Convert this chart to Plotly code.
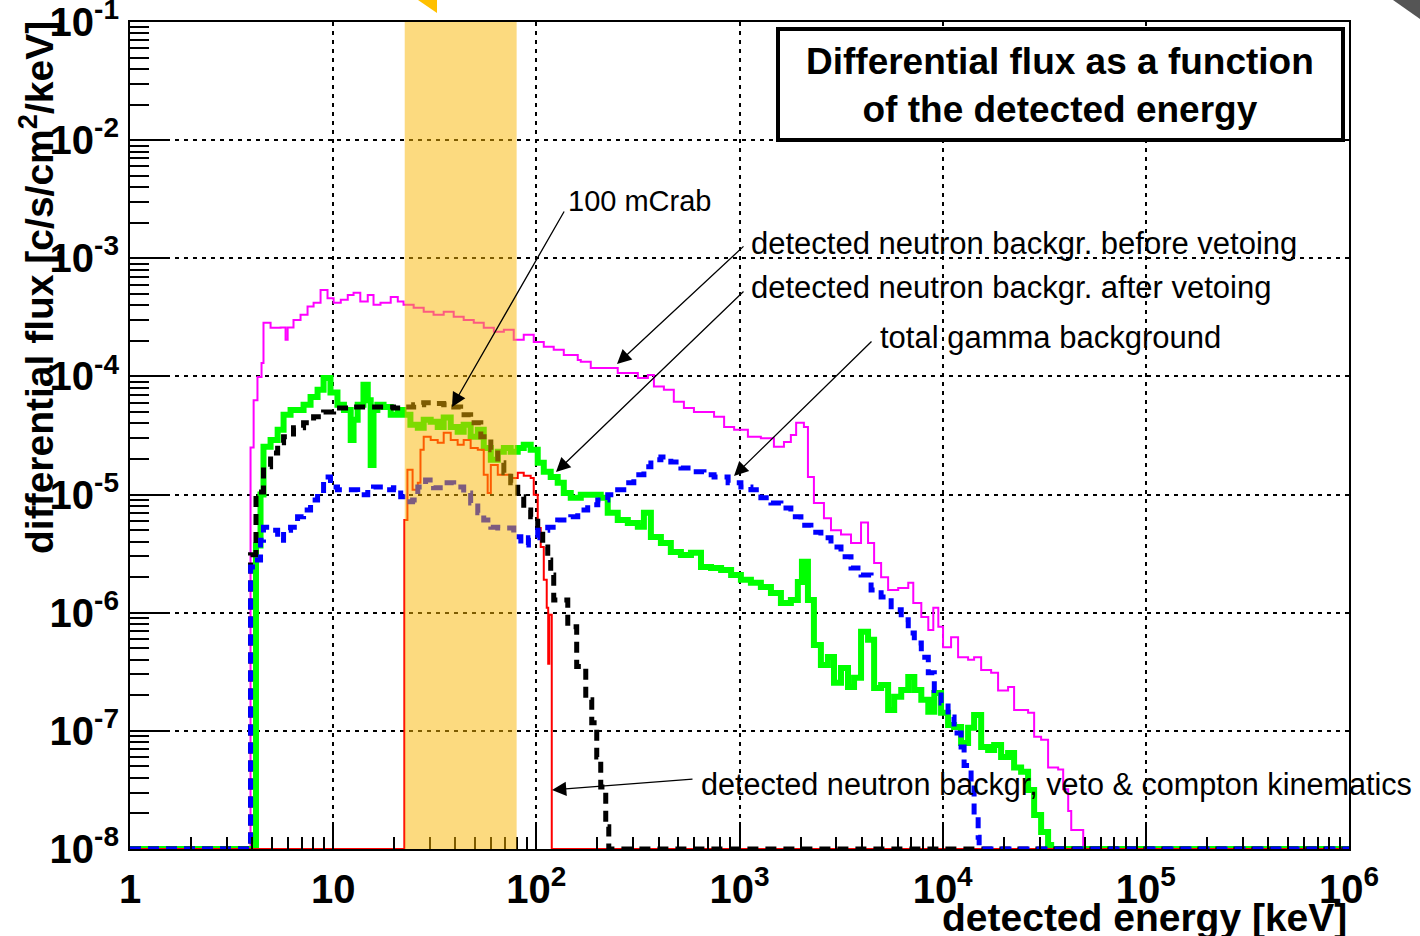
import plotly.graph_objects as go

# ---------------------------------------------------------------------------
# Histogram contents: left bin edge [keV] and differential flux [c/s/cm^2/keV].
# Empty bins sit at the bottom of the plotted range (1e-8).
# ---------------------------------------------------------------------------
FLOOR = 1e-8

# detected neutron background before vetoing
before_veto_E = [1, 3.92, 4.06, 4.24, 4.44, 4.54, 4.92, 5.51, 5.83, 5.97, 6.38, 6.91,
                 7.48, 8.01, 8.67, 9.38, 10.05, 10.9, 11.8, 12.6, 13.6, 14.8, 15.8,
                 17.1, 19.2, 20.8, 22.2, 24.9, 27.9, 31.2, 35.0, 39.2, 43.9, 49.2,
                 55.1, 61.8, 69.2, 77.4, 86.7, 97.1, 108.8, 121.8, 136.5, 159.9,
                 165.5, 185.3, 251.6, 315.9, 354.1, 379.1, 424.5, 475.0, 532.6,
                 596.7, 749.5, 839.9, 940.9, 1100, 1274, 1477, 1655, 1790, 1900,
                 2075, 2172, 2324, 2604, 2820, 3159, 3539, 3965, 4292, 4598, 4978,
                 5389, 6041, 6771, 7167, 7850, 8496, 8994, 9518, 10045, 11000,
                 11910, 13340, 14280, 15470, 17320, 18740, 20990, 22470, 26330,
                 28200, 30520, 33030, 37020, 39190, 41480, 42940, 49180, 1e6]
before_veto_F = [FLOOR, 2.5e-5, 6.3e-5, 9.9e-5, 1.3e-4, 2.84e-4, 2.58e-4, 2.6e-4, 2.04e-4,
                 2.6e-4, 3.0e-4, 3.33e-4, 3.9e-4, 4.2e-4, 5.4e-4, 4.6e-4, 4.2e-4,
                 4.46e-4, 4.9e-4, 5.1e-4, 4.3e-4, 4.9e-4, 4.04e-4, 4.2e-4, 4.7e-4,
                 4.3e-4, 4.04e-4, 3.81e-4, 3.52e-4, 3.33e-4, 3.52e-4, 3.2e-4, 3.01e-4,
                 2.84e-4, 2.58e-4, 2.39e-4, 2.48e-4, 2.04e-4, 2.25e-4, 1.96e-4,
                 1.78e-4, 1.68e-4, 1.52e-4, 1.38e-4, 1.33e-4, 1.18e-4, 1.07e-4,
                 9.7e-5, 1.03e-4, 8.2e-5, 7.7e-5, 6.1e-5, 5.4e-5, 5.0e-5, 4.55e-5,
                 3.74e-5, 3.53e-5, 3.08e-5, 3.0e-5, 2.54e-5, 2.79e-5, 3.2e-5, 4.05e-5,
                 3.74e-5, 1.41e-5, 8.5e-6, 6.3e-6, 5.0e-6, 4.6e-6, 3.9e-6, 5.8e-6,
                 3.9e-6, 2.64e-6, 2.0e-6, 1.56e-6, 1.62e-6, 1.79e-6, 1.21e-6, 9.2e-7,
                 7.15e-7, 1.1e-6, 7.6e-7, 5.1e-7, 6.2e-7, 4.2e-7, 4.0e-7, 4.2e-7,
                 3.28e-7, 3.1e-7, 2.2e-7, 2.35e-7, 1.5e-7, 1.42e-7, 8.9e-8, 8.4e-8,
                 4.9e-8, 4.7e-8, 3.2e-8, 2.1e-8, 1.45e-8, FLOOR, FLOOR]

# detected neutron background after vetoing
after_veto_E = [1, 4.17, 4.39, 4.54, 4.92, 5.33, 5.70, 6.17, 7.15, 7.74, 8.38, 8.97,
                9.70, 10.5, 11.3, 12.2, 12.6, 13.2, 14.1, 14.8, 15.3, 15.8, 16.5,
                17.7, 19.2, 20.8, 22.2, 24.0, 26.1, 27.9, 30.2, 32.7, 35.0, 37.9,
                41.0, 43.9, 47.5, 51.5, 55.1, 59.7, 64.6, 69.2, 74.8, 81.0, 86.7,
                93.8, 101.6, 108.8, 117.7, 127.4, 136.5, 147.7, 165.5, 207.5, 224.6,
                251.6, 282.0, 315.9, 338.4, 366.3, 410.3, 459.2, 514.8, 576.8,
                646.3, 724.4, 811.8, 909.4, 1016, 1138, 1274, 1428, 1599, 1790,
                1937, 2029, 2172, 2324, 2516, 2724, 2918, 3159, 3420, 3663, 3965,
                4292, 4598, 4978, 5389, 5773, 6252, 6771, 7252, 7850, 8496, 9096,
                9820, 10630, 11380, 12320, 13340, 14280, 15470, 16740, 17920,
                19390, 20990, 22470, 24330, 26330, 28200, 30520, 33030, 34200, 1e6]
after_veto_F = [FLOOR, 3.7e-6, 1.0e-5, 2.54e-5, 2.9e-5, 3.53e-5, 4.73e-5, 5.2e-5, 5.75e-5,
                6.7e-5, 7.7e-5, 9.7e-5, 7.3e-5, 5.75e-5, 5.2e-5, 2.9e-5, 4.3e-5,
                5.75e-5, 8.5e-5, 6.3e-5, 1.78e-5, 5.2e-5, 5.75e-5, 5.5e-5, 4.73e-5,
                5.2e-5, 4.73e-5, 3.9e-5, 3.67e-5, 4.3e-5, 4.13e-5, 3.74e-5, 4.5e-5,
                3.74e-5, 3.4e-5, 3.9e-5, 3.08e-5, 3.53e-5, 2.48e-5, 1.97e-5, 2.3e-5,
                2.48e-5, 2.3e-5, 2.48e-5, 2.64e-5, 2.39e-5, 1.86e-5, 1.56e-5,
                1.41e-5, 1.26e-5, 1.03e-5, 9.4e-6, 9.95e-6, 9.4e-6, 7.0e-6, 6.1e-6,
                5.76e-6, 5.33e-6, 7.0e-6, 4.38e-6, 3.9e-6, 3.27e-6, 3.08e-6,
                3.21e-6, 2.44e-6, 2.39e-6, 2.3e-6, 2.09e-6, 1.9e-6, 1.79e-6,
                1.65e-6, 1.47e-6, 1.21e-6, 1.28e-6, 1.82e-6, 2.7e-6, 1.28e-6,
                5.34e-7, 3.61e-7, 4.22e-7, 2.55e-7, 3.41e-7, 2.35e-7, 2.81e-7,
                6.9e-7, 5.9e-7, 2.31e-7, 2.45e-7, 1.5e-7, 1.94e-7, 2.22e-7, 2.86e-7,
                2.22e-7, 1.83e-7, 1.45e-7, 2.09e-7, 1.42e-7, 1.12e-7, 1.08e-7,
                7.9e-8, 1.06e-7, 1.36e-7, 7.3e-8, 6.9e-8, 7.6e-8, 6.0e-8, 6.5e-8,
                4.9e-8, 4.5e-8, 3.16e-8, 1.94e-8, 1.39e-8, 1.08e-8, FLOOR, FLOOR]

# total gamma background
gamma_E = [1, 3.92, 4.24, 4.39, 4.54, 4.92, 5.33, 5.70, 6.17, 6.68, 7.15, 7.74, 8.38,
           8.97, 9.70, 10.5, 13.2, 14.8, 15.8, 17.7, 19.8, 21.5, 23.2, 24.6, 26.1,
           28.5, 31.2, 35.0, 39.2, 43.9, 47.5, 51.5, 55.1, 59.7, 64.6, 77.4, 83.9,
           91.4, 101.6, 113.8, 127.4, 147.7, 159.9, 179.0, 200.6, 224.6, 240.3,
           269.4, 301.9, 338.4, 366.3, 410.3, 459.2, 514.8, 576.8, 668.7, 749.5,
           878.9, 1016, 1138, 1274, 1428, 1599, 1790, 2006, 2247, 2516, 2820,
           3159, 3539, 3965, 4443, 4978, 5578, 6252, 6771, 7252, 7850, 8496,
           9096, 9820, 10630, 11380, 12320, 12750, 13800, 14280, 14950, 15120, 1e6]
gamma_F = [FLOOR, 2.44e-6, 2.8e-6, 4.1e-6, 5.3e-6, 5.0e-6, 4.1e-6, 5.0e-6, 5.3e-6, 6.5e-6,
           7.4e-6, 9.0e-6, 1.03e-5, 1.41e-5, 1.16e-5, 1.10e-5, 9.95e-6, 1.10e-5,
           1.16e-5, 1.10e-5, 1.14e-5, 9.6e-6, 8.7e-6, 9.0e-6, 1.16e-5, 1.33e-5,
           1.14e-5, 1.26e-5, 1.16e-5, 1.03e-5, 8.5e-6, 7.0e-6, 6.1e-6, 5.3e-6,
           5.2e-6, 4.4e-6, 3.75e-6, 4.3e-6, 5.0e-6, 5.3e-6, 6.1e-6, 6.5e-6,
           7.4e-6, 8.2e-6, 9.0e-6, 9.95e-6, 1.10e-5, 1.26e-5, 1.47e-5, 1.72e-5,
           1.97e-5, 2.08e-5, 1.89e-5, 1.68e-5, 1.56e-5, 1.47e-5, 1.41e-5,
           1.26e-5, 1.16e-5, 1.10e-5, 9.4e-6, 8.5e-6, 7.7e-6, 6.5e-6, 5.5e-6,
           4.8e-6, 4.3e-6, 3.6e-6, 2.97e-6, 2.39e-6, 2.09e-6, 1.56e-6, 1.36e-6,
           1.06e-6, 8.7e-7, 6.75e-7, 5.55e-7, 4.2e-7, 3.1e-7, 2.2e-7, 1.72e-7,
           1.31e-7, 9.6e-8, 7.3e-8, 5.1e-8, 3.6e-8, 1.87e-8, 1.26e-8, FLOOR, FLOOR]

# 100 mCrab source
crab_E = [1, 3.92, 4.17, 4.54, 4.92, 5.33, 5.70, 6.38, 7.15, 8.01, 8.97, 10.05, 12.6,
          19.8, 22.2, 24.9, 27.9, 31.2, 35.0, 37.9, 42.4, 47.5, 53.3, 59.7, 64.6,
          69.2, 74.8, 81.0, 86.7, 93.8, 101.6, 107.5, 113.8, 117.7, 121.8, 142.8,
          158.0, 175.1, 187.4, 198.3, 207.5, 219.6, 227.3, 1e6]
crab_F = [FLOOR, 3.1e-6, 1.05e-5, 1.72e-5, 2.25e-5, 2.74e-5, 3.08e-5, 3.67e-5, 4.05e-5,
          4.55e-5, 5.0e-5, 5.4e-5, 5.5e-5, 5.4e-5, 5.5e-5, 5.75e-5, 6.0e-5, 5.9e-5,
          5.75e-5, 5.5e-5, 4.73e-5, 4.05e-5, 3.08e-5, 2.39e-5, 1.86e-5, 1.53e-5,
          1.26e-5, 9.6e-6, 7.4e-6, 6.5e-6, 5.0e-6, 3.6e-6, 2.8e-6, 2.09e-6,
          1.28e-6, 7.6e-7, 3.5e-7, 1.83e-7, 1.17e-7, 6.0e-8, 3.35e-8, 1.54e-8,
          FLOOR, FLOOR]

# detected neutron background, veto & Compton kinematics
compton_E = [1, 22.4, 23.2, 24.6, 26.1, 26.9, 27.9, 30.2, 32.7, 35.0, 37.9, 41.0, 43.9,
             47.5, 51.5, 55.1, 57.6, 59.7, 64.6, 74.8, 81.0, 86.7, 93.8, 97.1,
             101.6, 105.1, 108.8, 112.5, 114.4, 115.8, 119.1, 1e6]
compton_F = [FLOOR, 6.1e-6, 1.62e-5, 1.10e-5, 1.26e-5, 2.39e-5, 3.08e-5, 2.9e-5, 2.74e-5,
             3.33e-5, 2.9e-5, 2.64e-5, 2.9e-5, 2.48e-5, 2.39e-5, 1.47e-5, 1.03e-5,
             1.78e-5, 1.47e-5, 1.38e-5, 1.53e-5, 1.44e-5, 1.38e-5, 9.95e-6, 5.2e-6,
             3.6e-6, 1.9e-6, 1.1e-6, 3.7e-7, 9.6e-7, FLOOR, FLOOR]

# highlighted energy window [keV]
band_keV = [22.5, 80.0]

# axis ticks
x_tickvals = [1, 10, 100, 1e3, 1e4, 1e5, 1e6]
x_ticktext = ["1", "10", "10<sup>2</sup>", "10<sup>3</sup>", "10<sup>4</sup>",
              "10<sup>5</sup>", "10<sup>6</sup>"]
y_tickvals = [1e-8, 1e-7, 1e-6, 1e-5, 1e-4, 1e-3, 1e-2, 1e-1]
y_ticktext = ["10<sup>-8</sup>", "10<sup>-7</sup>", "10<sup>-6</sup>", "10<sup>-5</sup>",
              "10<sup>-4</sup>", "10<sup>-3</sup>", "10<sup>-2</sup>", "10<sup>-1</sup>"]

# ---------------------------------------------------------------------------
W, H = 1420, 936
ML, MR, MT, MB = 130, 71, 22, 87
PW, PH = W - ML - MR, H - MT - MB
FONT = "Liberation Sans, Arial, sans-serif"


def fx(px):
    """page pixel -> paper x"""
    return (px - ML) / PW


def fy(py):
    """page pixel -> paper y"""
    return (MT + PH - py) / PH


fig = go.Figure()


def add_hist(E, F, color, width, dash="solid"):
    fig.add_trace(go.Scatter(
        x=E, y=F, mode="lines",
        line=dict(color=color, width=width, dash=dash, shape="hv"),
        showlegend=False, hoverinfo="skip"))


add_hist(before_veto_E, before_veto_F, "#ff00ff", 2)
add_hist(after_veto_E, after_veto_F, "#00ff00", 6)
add_hist(compton_E, compton_F, "#ff0000", 2)
add_hist(crab_E, crab_F, "#000000", 5, "11px,7px")
add_hist(gamma_E, gamma_F, "#0000ff", 5, "11px,7px")

axis_common = dict(
    type="log", showline=True, linecolor="black", linewidth=2, mirror=True,
    ticks="inside", tickcolor="black", tickwidth=2,
    showgrid=True, gridcolor="black", gridwidth=2, griddash="4px,5px",
    zeroline=False, ticklabeloverflow="allow", automargin=False,
    tickfont=dict(family=FONT, size=40, color="black", weight="bold"),
)

fig.update_layout(
    width=W, height=H,
    margin=dict(l=ML, r=MR, t=MT, b=MB, pad=0, autoexpand=False),
    paper_bgcolor="white", plot_bgcolor="white",
    xaxis=dict(axis_common, range=[0, 6], tickmode="array",
               tickvals=x_tickvals, ticktext=x_ticktext, ticklen=27,
               ticklabelstandoff=4,
               minor=dict(ticks="inside", ticklen=12, tickwidth=2,
                          tickcolor="black", dtick="D1", showgrid=False)),
    yaxis=dict(axis_common, range=[-8, -1], tickmode="array",
               tickvals=y_tickvals, ticktext=y_ticktext, ticklen=36,
               ticklabelstandoff=1,
               minor=dict(ticks="inside", ticklen=19, tickwidth=2,
                          tickcolor="black", dtick="D1", showgrid=False)),
)

# energy window band (semi-transparent, drawn over the curves)
fig.add_shape(type="rect", xref="x", yref="paper",
              x0=band_keV[0], x1=band_keV[1], y0=0, y1=1,
              fillcolor="rgba(250,182,0,0.5)", line=dict(width=0), layer="above")

# title box
fig.add_shape(type="rect", xref="paper", yref="paper",
              x0=fx(778), x1=fx(1343), y0=fy(140), y1=fy(29),
              fillcolor="white", line=dict(color="black", width=4), layer="above")
fig.add_annotation(xref="paper", yref="paper", x=fx(1060), y=fy(85),
                   text="Differential flux as a function<br>of the detected energy",
                   showarrow=False, xanchor="center", yanchor="middle",
                   font=dict(family=FONT, size=37, color="black", weight="bold"))

# slide decorations at the page edge
fig.add_shape(type="path", xref="paper", yref="paper",
              path=f"M {fx(418)} {fy(0)} L {fx(437)} {fy(0)} L {fx(437)} {fy(13)} Z",
              fillcolor="#ffc000", line=dict(width=0), layer="above")
fig.add_shape(type="path", xref="paper", yref="paper",
              path=f"M {fx(1393)} {fy(0)} L {fx(1420)} {fy(0)} L {fx(1420)} {fy(19)} Z",
              fillcolor="#555555", line=dict(width=0), layer="above")

# axis titles
fig.add_annotation(xref="paper", yref="paper", x=1.0, y=fy(917),
                   text="detected energy [keV]", showarrow=False,
                   xanchor="right", yanchor="middle",
                   font=dict(family=FONT, size=39, color="black", weight="bold"))
fig.add_annotation(xref="paper", yref="paper", x=fx(36), y=fy(288),
                   text="differential flux [c/s/cm<sup>2</sup>/keV]", showarrow=False,
                   textangle=-90, xanchor="center", yanchor="middle",
                   font=dict(family=FONT, size=39, color="black", weight="bold"))

# labels with arrows:
# (text, font size, text left px, text centre py, arrow tip px, tip py, tail px, tail py)
labels = [
    ("100 mCrab", 29, 566, 201, 452, 407, 565, 210),
    ("detected neutron backgr. before vetoing", 31, 749, 243, 617, 364, 745, 245),
    ("detected neutron backgr. after vetoing", 31, 749, 287, 556, 472, 745, 290),
    ("total gamma background", 31, 878, 337, 734, 476, 873, 340),
    ("detected neutron backgr, veto &amp; compton kinematics", 30.6, 699, 784,
     552, 790, 694, 779),
]
for text, size, tx, ty, hx, hy, sx, sy in labels:
    fig.add_annotation(xref="paper", yref="paper", x=fx(tx), y=fy(ty), text=text,
                       showarrow=False, xanchor="left", yanchor="middle",
                       font=dict(family=FONT, size=size, color="black"))
    fig.add_annotation(xref="paper", yref="paper", x=fx(hx), y=fy(hy), text="",
                       showarrow=True, ax=sx - hx, ay=sy - hy,
                       arrowhead=2, arrowsize=2.2, arrowwidth=1.3, arrowcolor="black")

fig.write_html("out.html")
